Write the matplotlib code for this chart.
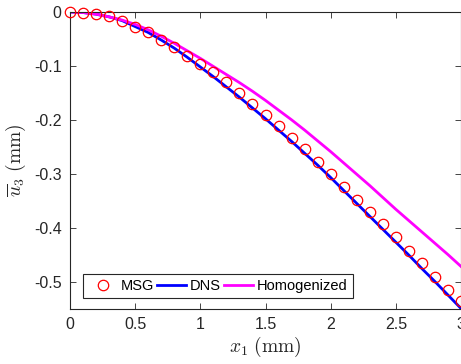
import matplotlib
matplotlib.use("Agg")
import matplotlib.pyplot as plt

# data (x1 in mm, u3 in mm)
x_vals = [0.0, 0.1, 0.2, 0.3, 0.4, 0.5, 0.6, 0.7, 0.8, 0.9, 1.0,
          1.1, 1.2, 1.3, 1.4, 1.5, 1.6, 1.7, 1.8, 1.9, 2.0,
          2.1, 2.2, 2.3, 2.4, 2.5, 2.6, 2.7, 2.8, 2.9, 3.0]
msg = [0.0, -0.001, -0.003, -0.008, -0.016, -0.028, -0.038, -0.052, -0.065, -0.081, -0.096,
       -0.112, -0.129, -0.150, -0.170, -0.191, -0.212, -0.233, -0.255, -0.278, -0.300,
       -0.324, -0.348, -0.371, -0.393, -0.417, -0.443, -0.465, -0.491, -0.516, -0.537]
dns = [0.0, -0.001, -0.004, -0.009, -0.016, -0.027, -0.038, -0.052, -0.067, -0.084, -0.102,
       -0.120, -0.139, -0.158, -0.178, -0.198, -0.219, -0.240, -0.262, -0.284, -0.307,
       -0.331, -0.355, -0.379, -0.403, -0.427, -0.451, -0.476, -0.500, -0.525, -0.550]
homog = [0.0, -0.001, -0.004, -0.009, -0.015, -0.023, -0.033, -0.045, -0.058, -0.072, -0.086,
         -0.101, -0.116, -0.131, -0.147, -0.164, -0.182, -0.200, -0.219, -0.239, -0.259,
         -0.280, -0.301, -0.322, -0.344, -0.366, -0.387, -0.408, -0.429, -0.450, -0.472]

x_ticks = [0, 0.5, 1, 1.5, 2, 2.5, 3]
x_ticklabels = ["0", "0.5", "1", "1.5", "2", "2.5", "3"]
y_ticks = [0, -0.1, -0.2, -0.3, -0.4, -0.5]
y_ticklabels = ["0", "-0.1", "-0.2", "-0.3", "-0.4", "-0.5"]

plt.rcParams["font.family"] = ["Liberation Sans", "DejaVu Sans"]
plt.rcParams["mathtext.fontset"] = "cm"
plt.rcParams["axes.unicode_minus"] = False

W, H = 461, 364
fig = plt.figure(figsize=(W / 100, H / 100), dpi=100)
ax = fig.add_axes([70 / W, (H - 308.5) / H, (W - 70) / W, (308.5 - 12) / H])

grey = "#262626"
ax.plot(x_vals, msg, "o", mfc="none", mec="red", ms=7.5, mew=0.9, label="MSG",
        clip_on=False, zorder=3)
ax.plot(x_vals, dns, "-", color="#0000ff", lw=2.0, label="DNS")
ax.plot(x_vals, homog, "-", color="#ff00ff", lw=2.0, label="Homogenized")

ax.set_xlim(0, 3)
ax.set_ylim(-0.55, 0)
ax.set_xticks(x_ticks)
ax.set_xticklabels(x_ticklabels)
ax.set_yticks(y_ticks)
ax.set_yticklabels(y_ticklabels)
ax.tick_params(direction="in", length=4, width=0.6, top=True, right=True,
               labelsize=11.5, colors=grey, pad=6)
for s in ax.spines.values():
    s.set_color(grey)
    s.set_linewidth(0.8)

ax.set_xlabel(r"$x_1\ \mathrm{(mm)}$", fontsize=14, color=grey, labelpad=2)
ax.set_ylabel(r"$\overline{u}_3\ \mathrm{(mm)}$", fontsize=14, color=grey, labelpad=4)

leg = ax.legend(loc="lower left", bbox_to_anchor=(0.033, 0.035), ncol=3,
                fontsize=10.5, frameon=True, fancybox=False, framealpha=1,
                edgecolor=grey, handlelength=2.0, handletextpad=0.25,
                columnspacing=0.2, borderpad=0.35, borderaxespad=0)
leg.get_frame().set_linewidth(0.8)

fig.savefig("out.png", dpi=100)
